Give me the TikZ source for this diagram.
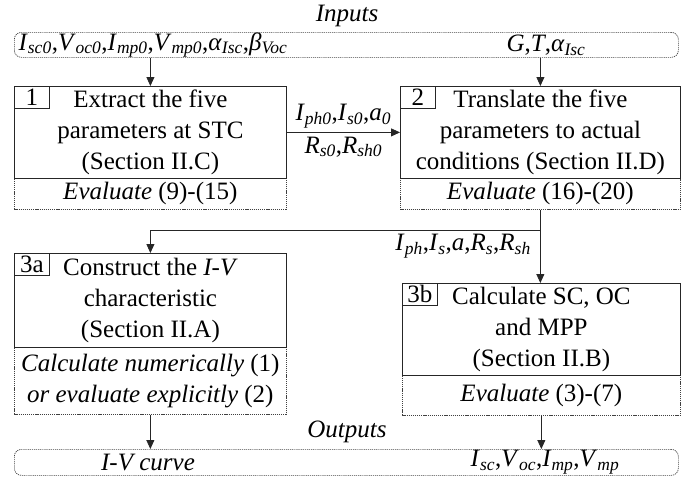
\documentclass[tikz,border=0pt]{standalone}
\usepackage{fontspec}
\setmainfont{Liberation Serif}
\usetikzlibrary{arrows.meta}
\newcommand{\vsub}[2]{\textit{#1}\textsubscript{\textit{#2}}}

\tikzset{
  every node/.style={inner sep=0pt, font=\fontsize{25}{31}\selectfont},
  solidbox/.style={draw=black!85, line width=0.8pt, anchor=north west, align=center},
  dotbox/.style={draw=black!75, line width=0.7pt, dash pattern=on 1.2pt off 0.9pt,
    anchor=north west, align=center},
  iobox/.style={dotbox, rounded corners=7pt},
  tagbox/.style={draw=black!85, line width=0.8pt, anchor=north west,
    minimum width=35pt, minimum height=22pt},
  flow/.style={draw=black!85, line width=0.8pt, -{Triangle[length=9pt,width=8pt]}},
}

\begin{document}
\begin{tikzpicture}[x=1pt,y=-1pt]
\useasboundingbox (0,0) rectangle (694,479);

% inputs
\node (intitle) at (347,16) {\textit{Inputs}};
\node[iobox, minimum width=664pt, minimum height=25pt] (inbox) at (14,32) {};
\node (inleft) at (153,45) {\vsub{I}{sc0},\vsub{V}{oc0},\vsub{I}{mp0},\vsub{V}{mp0},\vsub{α}{Isc},\vsub{β}{Voc}};
\node (inright) at (546,45) {\textit{G},\textit{T},\vsub{α}{Isc}};

% step 1
\node[dotbox, minimum width=272pt, minimum height=31pt] (ev1) at (14,178) {\textit{Evaluate} (9)-(15)};
\node[solidbox, minimum width=272pt, minimum height=92pt] (st1) at (14,86) {Extract the five\\parameters at STC\\(Section II.C)};
\node[tagbox] (tag1) at (st1.north west) {1};

% step 2
\node[dotbox, minimum width=280pt, minimum height=31pt] (ev2) at (400,178) {\textit{Evaluate} (16)-(20)};
\node[solidbox, minimum width=280pt, minimum height=92pt] (st2) at (400,86) {Translate the five\\parameters to actual\\conditions (Section II.D)};
\node[tagbox] (tag2) at (st2.north west) {2};

\draw[flow] (inbox.south -| st1.north) -- (st1.north);
\draw[flow] (inbox.south -| st2.north) -- (st2.north);
\draw[flow] (st1.east) -- (st2.west)
  node[midway, above=4pt] (par0a) {\vsub{I}{ph0},\vsub{I}{s0},\vsub{a}{0}}
  node[midway, below=4pt] (par0b) {\vsub{R}{s0},\vsub{R}{sh0}};

% step 3a
\node[dotbox, minimum width=272pt, minimum height=67pt] (ev3a) at (14,347) {\textit{Calculate numerically} (1)\\\textit{or evaluate explicitly} (2)};
\node[solidbox, minimum width=272pt, minimum height=94pt] (st3a) at (14,253) {Construct the \textit{I-V}\\characteristic\\(Section II.A)};
\node[tagbox] (tag3a) at (st3a.north west) {3a};

% step 3b
\node[dotbox, minimum width=278pt, minimum height=40pt] (ev3b) at (402,375) {\textit{Evaluate} (3)-(7)};
\node[solidbox, minimum width=278pt, minimum height=92pt] (st3b) at (402,283) {Calculate SC, OC\\and MPP\\(Section II.B)};
\node[tagbox] (tag3b) at (st3b.north west) {3b};

\coordinate (split) at (ev2.south |- 0,230);
\draw[draw=black!85, line width=0.8pt] (ev2.south) -- (split);
\draw[flow] (split) -| (st3a.north);
\draw[flow] (split) -- (split |- st3b.north);
\node[anchor=east] (par) at (531,246) {\vsub{I}{ph},\vsub{I}{s},\textit{a},\vsub{R}{s},\vsub{R}{sh}};

% outputs
\node (outtitle) at (347,432) {\textit{Outputs}};
\node[iobox, minimum width=664pt, minimum height=26pt] (outbox) at (14,449) {};
\node (outleft) at (148,462) {\textit{I-V curve}};
\node (outright) at (545,462) {\vsub{I}{sc},\vsub{V}{oc},\vsub{I}{mp},\vsub{V}{mp}};

\draw[flow] (ev3a.south) -- (ev3a.south |- outbox.north);
\draw[flow] (ev3b.south) -- (ev3b.south |- outbox.north);
\end{tikzpicture}
\end{document}
